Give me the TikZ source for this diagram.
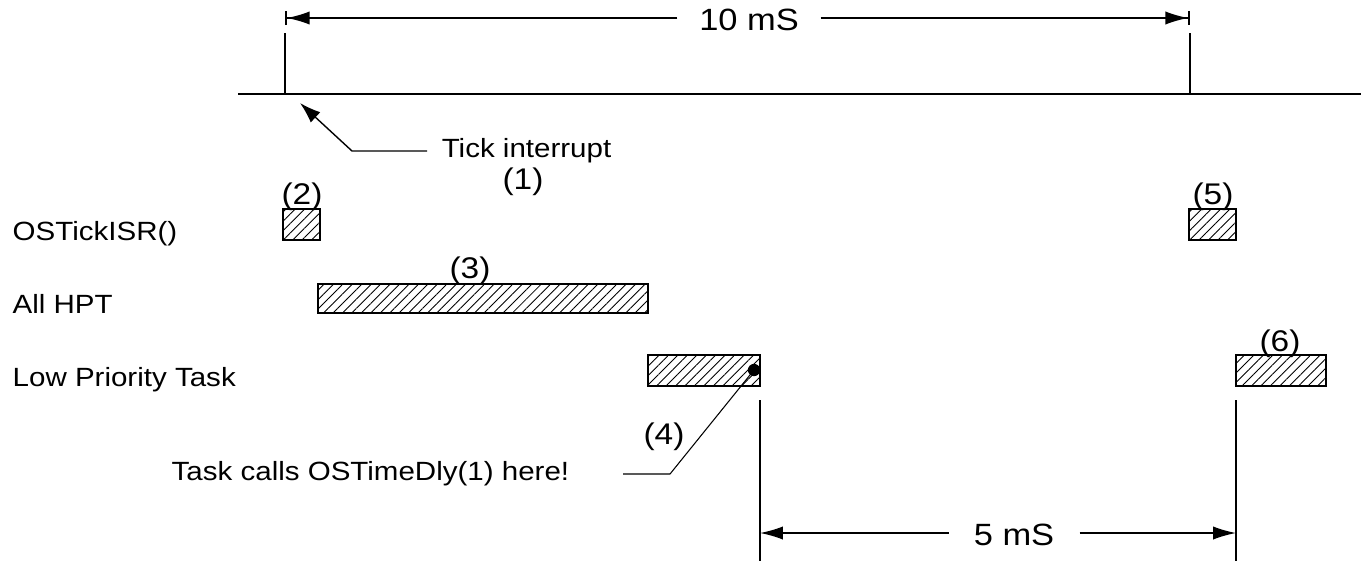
\documentclass[tikz,border=0pt]{standalone}
\usepackage{fontspec}
\setmainfont{Liberation Sans}[FakeStretch=1.12]
\usetikzlibrary{arrows.meta,patterns.meta}

\tikzset{
  busy/.style={draw=black, line width=0.9pt, inner sep=0pt,
    pattern={Lines[angle=45,distance=3.8pt,line width=0.5pt]}},
  rowlbl/.style={anchor=west, inner sep=0pt, font=\fontsize{15}{18}\selectfont},
  numlbl/.style={inner sep=0pt, font=\fontsize{17}{20}\selectfont},
  dimlbl/.style={inner xsep=12pt, inner ysep=0pt, font=\fontsize{17.5}{20}\selectfont},
  dimline/.style={line width=0.8pt, -{Latex[length=13pt,width=7.5pt]}},
  dimbar/.style={line width=0.8pt, -{Latex[length=13pt,width=7.5pt]Bar[width=8pt,line width=1pt]}},
  pointer/.style={line width=0.8pt, -{Latex[length=12pt,width=8pt]}}
}

\begin{document}
\begin{tikzpicture}[x=0.02cm, y=-0.02cm, line width=0.8pt]
\useasboundingbox (0,0) rectangle (1361,561);

% time line and 10 mS period
\draw (238,94) -- (1361,94);
\draw (285,33) -- (285,94);
\draw (1190,33) -- (1190,94);
\coordinate (p0) at (285,18);
\coordinate (p1) at (1190,18);
\node[dimlbl] (ten) at (749,20) {10 mS};
\draw[dimbar] (ten.west |- p0) -- (p0);
\draw[dimbar] (ten.east |- p1) -- (p1);

% tick interrupt
\node[rowlbl, inner xsep=8pt] (tick) at (427,151) {Tick interrupt};
\node[numlbl] (n1) at (523,182) {(1)};
\coordinate (tbend) at (352,151);
\coordinate (ttip) at (300,103);
\draw[pointer] (tick.west) -- (tbend) -- (ttip);

% rows
\node[rowlbl] (isr) at (12,234) {OSTickISR()};
\node[rowlbl] (hpt) at (12,304) {All HPT};
\node[rowlbl] (low) at (12,380) {Low Priority Task};

% busy periods
\node[busy, minimum width=0.74cm, minimum height=0.62cm] (isrA) at (301.5,224.5) {};
\node[busy, minimum width=6.6cm, minimum height=0.58cm] (hptA) at (483,298.5) {};
\node[busy, minimum width=2.24cm, minimum height=0.62cm] (lowA) at (704,370.5) {};
\node[busy, minimum width=0.94cm, minimum height=0.62cm] (isrB) at (1212.5,224.5) {};
\node[busy, minimum width=1.8cm, minimum height=0.62cm] (lowB) at (1281,370.5) {};

\node[numlbl] (n2) at (302,197) {(2)};
\node[numlbl] (n3) at (470,271) {(3)};
\node[numlbl] (n5) at (1213,197) {(5)};
\node[numlbl] (n6) at (1280,344) {(6)};

% OSTimeDly call
\node[circle, fill=black, inner sep=0pt, minimum size=7pt] (dot) at (754,370) {};
\node[rowlbl] (dly) at (171,474) {Task calls OSTimeDly(1) here!};
\node[numlbl] (n4) at (664,437) {(4)};
\coordinate (lstart) at (623,474);
\coordinate (lbend) at (670,474);
\draw[line width=0.6pt] (lstart) -- (lbend) -- (dot.center);

% 5 mS delay
\draw (760,400) -- (760,561);
\draw (1236,400) -- (1236,561);
\coordinate (d0) at (760,533);
\coordinate (d1) at (1236,533);
\node[dimlbl, inner xsep=14pt] (five) at (1014,535) {5 mS};
\draw[dimline] (five.west |- d0) -- (d0);
\draw[dimline] (five.east |- d1) -- (d1);
\end{tikzpicture}
\end{document}
